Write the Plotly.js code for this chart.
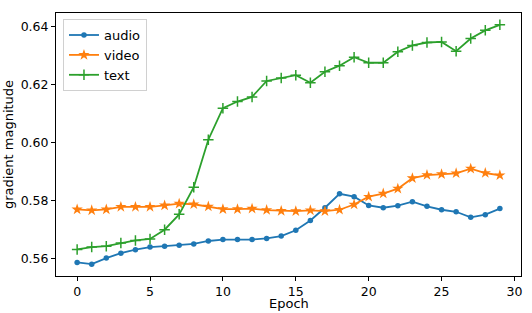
<!DOCTYPE html>
<html>
<head>
<meta charset="utf-8">
<script src="https://cdn.plot.ly/plotly-3.0.1.min.js"></script>
<style>html,body{margin:0;padding:0;background:#fff;}#chart{width:532px;height:313px;}</style>
</head>
<body>
<div id="chart"></div>
<script>
const epochs = Array.from({length: 30}, (_, i) => i);
const audio = [0.5586, 0.5580, 0.5601, 0.5618, 0.5630, 0.5639, 0.5642, 0.5645, 0.5650, 0.5660,
  0.5665, 0.5665, 0.5665, 0.5669, 0.5677, 0.5697, 0.5731, 0.5775, 0.5823, 0.5813,
  0.5783, 0.5775, 0.5782, 0.5796, 0.5780, 0.5768, 0.5761, 0.5742, 0.5751, 0.5772];
const video = [0.5769, 0.5766, 0.5769, 0.5778, 0.5778, 0.5778, 0.5783, 0.5789, 0.5787, 0.5779,
  0.5770, 0.5770, 0.5772, 0.5767, 0.5764, 0.5763, 0.5766, 0.5763, 0.5768, 0.5786,
  0.5813, 0.5824, 0.5841, 0.5877, 0.5888, 0.5891, 0.5894, 0.5910, 0.5895, 0.5887];
const text = [0.5631, 0.5639, 0.5642, 0.5653, 0.5662, 0.5667, 0.5699, 0.5752, 0.5846, 0.6010,
  0.6119, 0.6142, 0.6158, 0.6213, 0.6223, 0.6233, 0.6207, 0.6245, 0.6266, 0.6295,
  0.6276, 0.6276, 0.6314, 0.6336, 0.6346, 0.6348, 0.6316, 0.6360, 0.6388, 0.6407];
const xTicks = [0, 5, 10, 15, 20, 25, 30];
const yTicks = [0.56, 0.58, 0.60, 0.62, 0.64];
const xTitle = "Epoch";
const yTitle = "gradient magnitude";

const font = "DejaVu Sans, sans-serif";
const traces = [
  {x: epochs, y: audio, name: "audio", mode: "lines+markers",
   line: {color: "#1f77b4", width: 1.8}, marker: {symbol: "circle", size: 5.5, color: "#1f77b4"}},
  {x: epochs, y: video, name: "video", mode: "lines+markers",
   line: {color: "#ff7f0e", width: 1.8}, marker: {symbol: "star", size: 8.5, color: "#ff7f0e"}},
  {x: epochs, y: text, name: "text", mode: "lines+markers",
   line: {color: "#2ca02c", width: 1.8}, marker: {symbol: "cross-thin", size: 7.5, color: "#2ca02c", line: {color: "#2ca02c", width: 1.5}}}
];
const axisCommon = {
  showgrid: false, zeroline: false, showline: true, mirror: true,
  linecolor: "#000", linewidth: 1, ticks: "outside", ticklen: 4, tickwidth: 1, tickcolor: "#000",
  tickfont: {family: font, size: 12.5, color: "#000"}
};
const layout = {
  width: 532, height: 313,
  margin: {l: 56, r: 11, t: 13, b: 37},
  paper_bgcolor: "#fff", plot_bgcolor: "#fff",
  font: {family: font, color: "#000"},
  xaxis: Object.assign({}, axisCommon, {range: [-1.45, 30.45], tickvals: xTicks, ticktext: xTicks.map(String)}),
  yaxis: Object.assign({}, axisCommon, {range: [0.5539, 0.6448], tickvals: yTicks, ticktext: yTicks.map(v => v.toFixed(2)),
    title: {text: yTitle, font: {family: font, size: 13, color: "#000"}, standoff: 4}}),
  annotations: [{text: xTitle, xref: "paper", yref: "paper", x: 0.5, y: -0.136, xanchor: "center", yanchor: "bottom",
    borderpad: 0, showarrow: false, font: {family: font, size: 13, color: "#000"}}],
  legend: {x: 0.015, y: 0.977, xanchor: "left", yanchor: "top", bgcolor: "rgba(255,255,255,0.8)",
    bordercolor: "#d0d0d0", borderwidth: 1, font: {family: font, size: 13, color: "#000"}, itemwidth: 30},
  showlegend: true
};
Plotly.newPlot("chart", traces, layout, {displayModeBar: false, staticPlot: true});
</script>
</body>
</html>
